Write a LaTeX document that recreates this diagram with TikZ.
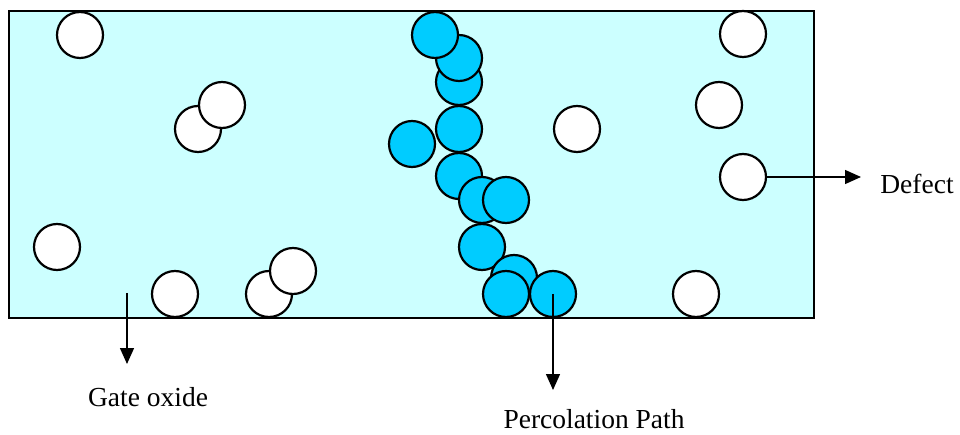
\documentclass[tikz,border=0pt]{standalone}
\usepackage{fontspec}
\setmainfont{Liberation Serif}
\usetikzlibrary{positioning,arrows.meta}

\definecolor{oxide}{HTML}{CCFFFF}
\definecolor{trap}{HTML}{00CCFF}

\begin{document}
\begin{tikzpicture}[
  x=1pt, y=-1pt,
  font=\fontsize{27.5}{33}\selectfont,
  layer/.style={draw, line width=2pt, fill=oxide},
  defect/.style={circle, draw, line width=2.2pt, fill=white, minimum size=46pt, inner sep=0pt},
  hop/.style={defect, fill=trap},
  arr/.style={-{Triangle[length=16pt, width=14pt]}, line width=1.4pt},
  lab/.style={inner sep=0pt}
]
\useasboundingbox (0,0) rectangle (960,435);
\draw[layer] (9,11) rectangle (814,318);
% isolated defects
\node[defect] (w1) at (80,35) {};
\node[defect] (w2) at (198,129) {};
\node[defect] (w3) at (222,105) {};
\node[defect] (w4) at (57,247) {};
\node[defect] (w5) at (175,294) {};
\node[defect] (w6) at (269,294) {};
\node[defect] (w7) at (293,271) {};
\node[defect] (w8) at (577,129) {};
\node[defect] (w9) at (743,34) {};
\node[defect] (w10) at (719,105) {};
\node[defect] (w11) at (743,177) {};
\node[defect] (w12) at (696,294) {};
% percolation path
\node[hop] (b3) at (459,82) {};
\node[hop] (b2) at (459,58) {};
\node[hop] (b1) at (435,35) {};
\node[hop] (b4) at (459,129) {};
\node[hop] (b5) at (412,144) {};
\node[hop] (b6) at (459,176) {};
\node[hop] (b7) at (482,200) {};
\node[hop] (b8) at (506,200) {};
\node[hop] (b9) at (482,247) {};
\node[hop] (b10) at (514,278) {};
\node[hop] (b11) at (506,294) {};
\node[hop] (b12) at (553,294) {};
% labels
\node[lab] (deflab) at (917,184) {Defect};
\node[lab] (goxlab) at (148,397) {Gate oxide};
\node[lab] (pathlab) at (594,419) {Percolation Path};
\coordinate (defend) at (861,177);
\coordinate (goxstart) at (127,293);
\coordinate (goxend) at (127,364);
\coordinate (pathend) at (553,390);
\draw[arr] (w11.east) -- (defend);
\draw[arr] (goxstart) -- (goxend);
\draw[arr] (b12.center) -- (pathend);
\end{tikzpicture}
\end{document}
